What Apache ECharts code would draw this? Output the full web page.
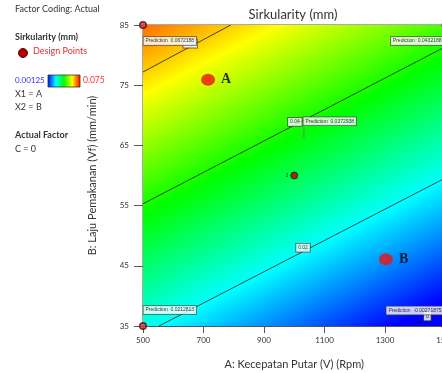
<!DOCTYPE html>
<html><head><meta charset="utf-8">
<script src="https://cdn.jsdelivr.net/npm/echarts@6/dist/echarts.min.js"></script>
<style>html,body{margin:0;padding:0;background:#fff}#c{width:442px;height:373px}</style>
</head><body><div id="c"></div>
<script>
// ---- data ----
const xTicks = [500, 700, 900, 1100, 1300, 1500];
const yTicks = [35, 45, 55, 65, 75, 85];
const cornerA = [500, 1500, 500, 1500];
const cornerB = [85, 85, 35, 35];
const cornerPred = [0.0672188, 0.0432188, 0.0212813, -0.00271875];
const cornerPredText = ['0.0672188', '0.0432188', '0.0212813', '-0.00271875'];
const colorMin = 0.00125, colorMax = 0.075;
const contourLevels = ['0.06', '0.04', '0.02', '0'];
const contour006 = [[500, 77.2], [790, 85]];
const contour004 = [[500, 55.3], [1500, 81.4]];
const contour002 = [[553, 35], [1500, 59.6]];
const contour000 = [[1390, 35], [1500, 37.7]];
const contourLabelPts = [[656, 81.9], [1002, 68.9], [1029, 48.0], [1440, 36.6]];
const designA = [500, 1500, 500, 1500];
const designB = [85, 85, 35, 35];
const centerPt = [1000, 60];
const centerReplicates = '3';
const flagPt = [1032, 66.2];
const flagTop = [1032, 68.1];
const flagText = '0.0372938';
const pointA = [715, 75.9];
const pointB = [1303, 46.1];

const FONT = 'Lato';
const stops = [
  {offset: 0, color: '#0000ff'},
  {offset: 0.25, color: '#00ffff'},
  {offset: 0.5, color: '#00ff00'},
  {offset: 0.75, color: '#ffff00'},
  {offset: 1, color: '#ff0000'}
];

const chart = echarts.init(document.getElementById('c'), null, {renderer: 'canvas'});

const tinyBox = {
  show: true, fontSize: 5, fontFamily: 'Liberation Sans', color: '#000',
  backgroundColor: '#fff', borderColor: '#444', borderWidth: 0.8, padding: [1.5, 2]
};

function lineSeries(d) {
  return {type: 'line', data: d, symbol: 'none', silent: true, z: 3,
    lineStyle: {color: '#1a1a1a', width: 0.8}, clip: true, animation: false};
}

const flagOffsets = [[1, 16.5, 'left'], [-1.5, 16.5, 'right'], [1, -15.5, 'left'], [-1.5, -15, 'right']];

const option = {
  animation: false,
  grid: {left: 143, top: 25, width: 302.5, height: 301, show: true, borderColor: '#555', borderWidth: 1,
    backgroundColor: 'transparent', outerBoundsMode: 'none', containLabel: false},
  xAxis: {
    type: 'value', min: 500, max: 1500, interval: 200,
    name: 'A: Kecepatan Putar (V) (Rpm)', nameLocation: 'middle', nameGap: 33,
    nameTextStyle: {fontSize: 11, fontFamily: FONT, color: '#333'},
    axisLine: {show: true, lineStyle: {color: '#555'}},
    axisTick: {show: true, length: 7, lineStyle: {color: '#555'}},
    axisLabel: {fontSize: 8, fontFamily: FONT, color: '#333', margin: 10, hideOverlap: false,
      formatter: v => xTicks.includes(v) ? String(v) : ''},
    splitLine: {show: false}
  },
  yAxis: {
    type: 'value', min: 35, max: 85, interval: 10,
    name: 'B: Laju Pemakanan (Vf) (mm/min)', nameLocation: 'middle', nameGap: 45,
    nameTextStyle: {fontSize: 11, fontFamily: FONT, color: '#333'},
    axisLine: {show: true, lineStyle: {color: '#555'}},
    axisTick: {show: true, length: 9, lineStyle: {color: '#555'}},
    axisLabel: {fontSize: 8, fontFamily: FONT, color: '#333', margin: 14,
      formatter: v => yTicks.includes(v) ? String(v) : ''},
    splitLine: {show: false}
  },
  graphic: [
    {type: 'text', left: 15, top: 5, style: {text: 'Factor Coding: Actual', font: '9px ' + FONT, fill: '#333'}},
    {type: 'text', left: 15, top: 33, style: {text: 'Sirkularity (mm)', font: 'bold 9px ' + FONT, fill: '#333'}},
    {type: 'circle', shape: {cx: 23, cy: 53, r: 4.5}, style: {fill: '#b00000', stroke: '#600000', lineWidth: 1}},
    {type: 'text', left: 33, top: 47, style: {text: 'Design Points', font: '9px ' + FONT, fill: '#e03030'}},
    {type: 'text', left: 15, top: 76, style: {text: String(colorMin), font: '8px ' + FONT, fill: '#3333ff'}},
    {type: 'rect', shape: {x: 48, y: 75, width: 32, height: 12},
      style: {fill: new echarts.graphic.LinearGradient(0, 0, 1, 0, stops), stroke: '#333', lineWidth: 0.8}},
    {type: 'text', left: 83, top: 76, style: {text: String(colorMax), font: '8.5px ' + FONT, fill: '#ff3333'}},
    {type: 'text', left: 15, top: 90, style: {text: 'X1 = A', font: '9px ' + FONT, fill: '#333'}},
    {type: 'text', left: 15, top: 103, style: {text: 'X2 = B', font: '9px ' + FONT, fill: '#333'}},
    {type: 'text', left: 15, top: 131, style: {text: 'Actual Factor', font: 'bold 9px ' + FONT, fill: '#333'}},
    {type: 'text', left: 15, top: 145, style: {text: 'C = 0', font: '9px ' + FONT, fill: '#333'}},
    {type: 'text', x: 293, y: 15, style: {text: 'Sirkularity (mm)', font: '13px ' + FONT, fill: '#333', textAlign: 'center', textVerticalAlign: 'middle'}}
  ],
  series: [
    {
      type: 'custom', silent: true, z: 1, clip: true,
      data: [[cornerA[0], cornerB[0]]],
      renderItem: function (params, api) {
        const p = cornerA.map((a, i) => api.coord([a, cornerB[i]]));
        const tl = p[0], tr = p[1], bl = p[2];
        const gx = (cornerPred[1] - cornerPred[0]) / (tr[0] - tl[0]);
        const gy = (cornerPred[2] - cornerPred[0]) / (bl[1] - tl[1]);
        const g2 = gx * gx + gy * gy;
        const s = (colorMin - cornerPred[0]) / g2, e = (colorMax - cornerPred[0]) / g2;
        const grad = new echarts.graphic.LinearGradient(tl[0] + gx * s, tl[1] + gy * s, tl[0] + gx * e, tl[1] + gy * e, stops, true);
        return {type: 'rect', shape: {x: tl[0], y: tl[1], width: tr[0] - tl[0], height: bl[1] - tl[1]}, style: {fill: grad}};
      }
    },
    lineSeries(contour006), lineSeries(contour004), lineSeries(contour002), lineSeries(contour000),
    {
      type: 'scatter', z: 5, silent: true, symbolSize: 1, itemStyle: {color: 'transparent'},
      data: contourLabelPts.map((p, i) => ({value: p, label: Object.assign({}, tinyBox, {
        position: 'inside', align: 'center', verticalAlign: 'middle', formatter: contourLevels[i]})}))
    },
    {
      type: 'line', data: [flagPt, flagTop], symbol: 'none', silent: true, z: 6,
      lineStyle: {color: '#777', width: 1}
    },
    {
      type: 'scatter', z: 7, silent: true, symbolSize: 1, itemStyle: {color: 'transparent'},
      data: cornerA.map((a, i) => ({value: [a, cornerB[i]], label: Object.assign({}, tinyBox, {
        position: [flagOffsets[i][0], flagOffsets[i][1]], align: flagOffsets[i][2], verticalAlign: 'middle',
        formatter: 'Prediction  ' + cornerPredText[i]})})).concat([
        {value: flagTop, label: Object.assign({}, tinyBox, {position: [0, -5], align: 'left', verticalAlign: 'middle',
          formatter: 'Prediction  ' + flagText})}]),
      clip: false
    },
    {
      type: 'scatter', z: 8, silent: true, symbol: 'circle', symbolSize: 6.5, clip: false,
      itemStyle: {color: '#c04040', borderColor: '#600000', borderWidth: 1.5},
      data: designA.map((a, i) => [a, designB[i]])
    },
    {
      type: 'scatter', z: 8, silent: true, symbol: 'circle', symbolSize: 7,
      itemStyle: {color: '#b00000', borderColor: '#300000', borderWidth: 0.8},
      data: [centerPt],
      label: {show: true, position: 'left', distance: 2, formatter: centerReplicates, fontSize: 5, fontFamily: 'Liberation Sans', color: '#000'}
    },
    {
      type: 'scatter', z: 9, silent: true, symbol: 'circle', symbolSize: [14, 12],
      itemStyle: {color: '#ee1111'},
      data: [{value: pointA, name: 'A'}, {value: pointB, name: 'B'}],
      label: {show: true, position: 'right', distance: 6, formatter: '{b}', fontSize: 14, fontWeight: 'bold',
        fontFamily: 'Liberation Serif', color: '#000'}
    }
  ]
};
chart.setOption(option);
</script>
</body></html>
